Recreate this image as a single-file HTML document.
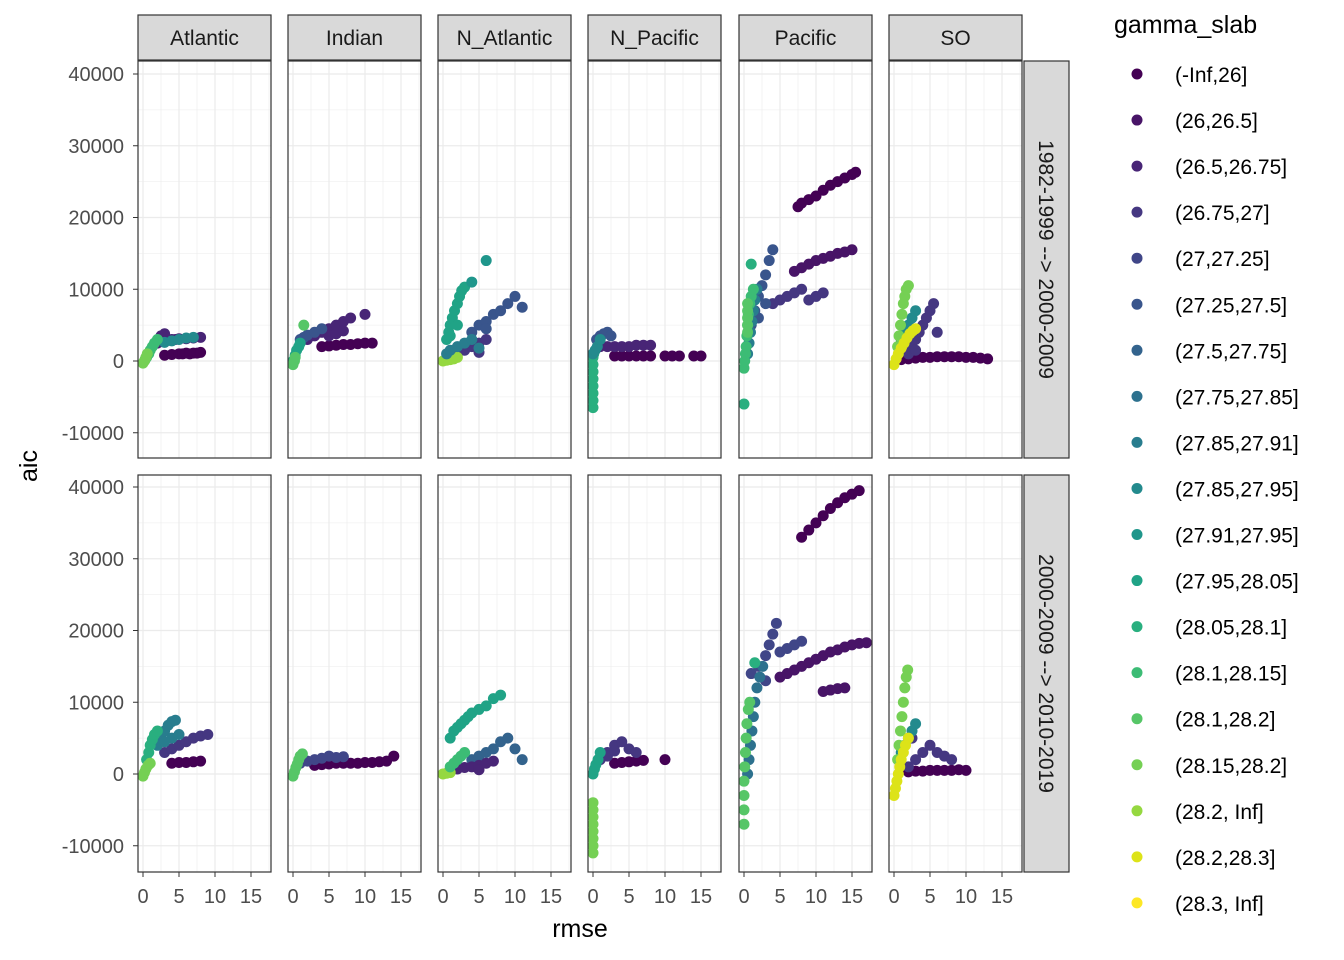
<!DOCTYPE html>
<html><head><meta charset="utf-8"><style>
body{margin:0;background:#fff}
svg{font-family:"Liberation Sans",Arial,sans-serif;display:block}
</style></head><body>
<svg id="chart" width="1344" height="960" viewBox="0 0 1344 960"></svg>
<script>
const facets = ["Atlantic","Indian","N_Atlantic","N_Pacific","Pacific","SO"];
const rowsLab = ["1982-1999 --> 2000-2009","2000-2009 --> 2010-2019"];
const classes = ["(-Inf,26]","(26,26.5]","(26.5,26.75]","(26.75,27]","(27,27.25]","(27.25,27.5]","(27.5,27.75]","(27.75,27.85]","(27.85,27.91]","(27.85,27.95]","(27.91,27.95]","(27.95,28.05]","(28.05,28.1]","(28.1,28.15]","(28.1,28.2]","(28.15,28.2]","(28.2, Inf]","(28.2,28.3]","(28.3, Inf]"];
const colors = ["#440154","#481467","#482576","#453781","#404688","#39558C","#33638D","#2D718E","#287D8E","#238A8D","#1F968B","#20A386","#29AF7F","#3CBC75","#56C667","#75D054","#95D840","#DDE318","#FDE725"];
const xTicks = [0,5,10,15];
const yTicks = [-10000,0,10000,20000,30000,40000];
// clusters: facet, row, class, then rmse/aic(thousands) pairs
const clusters = [
"0 0 0: 3 0.8 4 0.9 5 1 5.5 1 6 1.1 6.5 1 7 1.1 7.5 1.1 8 1.2",
"0 0 2: 2 2.5 2.5 2.7 3 2.8 3.5 2.9 4 3 4.5 3 5 3.1 6 3.1 7 3.2 8 3.3 2.5 3.5 3 3.8",
"0 0 9: 3 2.6 4 2.8 5 3 6 3.2 7 3.3",
"0 0 13: 0.5 0.5 0.8 1 1 1.5 1.3 2 1.6 2.5 2 3 0.3 0.2",
"0 0 15: 0 -0.3 0.2 0 0.4 0.5 0.6 1",
"0 1 0: 4 1.5 5 1.6 6 1.6 7 1.7 8 1.8",
"0 1 3: 3 3 4 3.5 5 4 6 4.5 7 5 8 5.3 9 5.5",
"0 1 8: 2 4 2.5 5 3 6 3.5 6.8 4 7.3 4.5 7.5 3 4.5 4 5 5 5.5",
"0 1 12: 0.5 2 0.8 3 1 4 1.3 4.8 1.6 5.5 2 6",
"0 1 15: 0 -0.3 0.2 0.2 0.4 0.7 0.7 1.2 1 1.5",
"1 0 0: 4 2 5 2.1 6 2.2 7 2.3 8 2.3 9 2.4 10 2.5 11 2.5",
"1 0 2: 2 3 3 3.5 4 4 5 4.5 6 5 7 5.5 8 6 10 6.5 5 3.5 6 3.8 7 4.2",
"1 0 5: 1 3 1.5 3.3 2 3.6 3 4 4 4.5",
"1 0 11: 0 0 0.3 0.8 0.5 1.5 0.8 2 1 2.5",
"1 0 14: 1.5 5 0 -0.5 0.2 0 0.3 0.5",
"1 1 0: 3 1.2 4 1.3 5 1.4 6 1.5 7 1.5 8 1.5 9 1.5 10 1.6 11 1.6 12 1.7 13 1.8 14 2.5",
"1 1 4: 1 1.5 2 1.8 3 2 4 2.2 5 2.5 6 2.3 7 2.4",
"1 1 14: 0 -0.3 0.2 0.3 0.4 0.9 0.6 1.4 0.8 2 1 2.5 1.3 2.8",
"2 0 11: 0.5 3 0.8 4 1 5 1.3 6 1.6 7 2 8 2.3 9 2.6 9.8 3 10.3 1 3.5 2 5",
"2 0 10: 6 14 4 11",
"2 0 5: 4 4 5 5 6 5.5 7 6.5 8 7 9 8 10 9 11 7.5 6 4.5",
"2 0 3: 2 1 3 1.5 4 2 5 2.5 6 3 5 1.2",
"2 0 16: 0 0 0.5 0.1 1 0.2 1.5 0.3 2 0.5",
"2 0 8: 0.5 1 1 1.5 2 2 3 2.5 4 3 5 1.8",
"2 1 11: 1 5 1.5 6 2 6.5 2.5 7 3 7.5 3.5 8 4 8.5 5 9 6 9.5 7 10.5 8 11",
"2 1 6: 4 2 5 2.5 6 3 7 3.5 8 4.5 9 5 10 3.5 11 2",
"2 1 2: 1 0.5 2 0.7 3 0.9 4 1 5 1.2 6 1.5 7 1.8 5 0.6",
"2 1 16: 0 0 0.5 0.1 1 0.2",
"2 1 13: 1 1 1.5 1.5 2 2 2.5 2.5 3 3",
"3 0 0: 3 0.7 4 0.7 5 0.7 6 0.7 7 0.7 8 0.7 10 0.7 11 0.7 12 0.7 14 0.7 15 0.7",
"3 0 2: 1 2 2 2 3 2 4 2 5 2 6 2.2 7 2.2 8 2.2",
"3 0 5: 0.5 3 1 3.5 1.5 3.8 2 4 2.5 3.5",
"3 0 12: 0 -6.5 0 -5.5 0 -4.5 0 -3.5 0 -2.5 0 -1.5 0 -0.5 0 0.5 0.1 1",
"3 0 9: 0 1 0.3 1.5 0.6 2 1 3",
"3 1 0: 3 1.5 4 1.6 5 1.7 6 1.8 7 1.9 10 2",
"3 1 3: 1 2 2 3 3 4 4 4.5 5 3.5 6 3 2 2.5 3 3.2",
"3 1 15: 0 -11 0 -10 0 -9 0 -8 0 -7 0 -6 0 -5 0 -4",
"3 1 11: 0 0 0.2 0.7 0.4 1.3 0.7 2 1 3",
"4 0 0: 7.5 21.5 8 22 9 22.5 10 23 11 23.8 12 24.5 13 25 14 25.5 15 26 15.5 26.3",
"4 0 1: 7 12.5 8 13 9 13.5 10 14 11 14.3 12 14.6 13 15 14 15.2 15 15.5",
"4 0 3: 4 8 5 8.5 6 9 7 9.5 8 10 9 8.5 10 9 11 9.5",
"4 0 5: 1 5 1.5 7 2 9 2.5 10.5 3 12 3.5 14 4 15.5 2 6 3 8",
"4 0 8: 0.5 1 0.7 2.5 0.9 4 1.1 5.5 1.3 7 1.5 8.5 1.8 10",
"4 0 13: 0 -1 0.1 0 0.2 1 0.3 2 0.4 3.5 0.5 5 0.6 6.5 0.8 8 1 9 1.3 10",
"4 0 12: 1 13.5 0 -6",
"4 0 14: 0.5 4 0.5 5 0.5 6 0.5 7 0.5 8",
"4 1 0: 8 33 9 34 10 35 11 36 12 37 13 37.8 14 38.5 15 39 16 39.5",
"4 1 1: 5 13.5 6 14 7 14.5 8 15 9 15.5 10 16 11 16.5 12 17 13 17.3 14 17.7 15 18 16 18.2 17 18.3 11 11.5 12 11.7 13 11.9 14 12",
"4 1 4: 1 14 2 15 3 16.5 3.5 18 4 19.5 4.5 21 5 17 6 17.5 7 18 8 18.5 3 13",
"4 1 7: 0.5 0 0.7 2 0.9 4 1.1 6 1.3 8 1.5 10 1.8 12 2.2 13.5 2.6 15",
"4 1 14: 0 -7 0 -5 0 -3 0 -1 0.1 1 0.2 3 0.3 5 0.4 7 0.6 9 0.8 10",
"4 1 12: 1.5 15.5",
"5 0 0: 1 0.2 2 0.3 3 0.4 4 0.5 5 0.5 6 0.6 7 0.6 8 0.6 9 0.6 10 0.5 11 0.5 12 0.4 13 0.3",
"5 0 3: 2 1 2.5 2 3 3 3.5 4 4 5 4.5 6 5 7 5.5 8 6 4 3 1.5",
"5 0 9: 1 3 1.5 4 2 5 2.5 6 3 7",
"5 0 15: 0.5 2 0.7 3.5 0.9 5 1.1 6.5 1.3 8 1.5 9 1.7 10 2 10.5",
"5 0 17: 0 -0.5 0.3 0.3 0.6 1 1 1.8 1.4 2.5 1.8 3.2 2.2 3.8 2.6 4.2 3 4.5",
"5 1 0: 2 0.3 3 0.4 4 0.4 5 0.5 6 0.5 7 0.5 8 0.5 9 0.6 10 0.5",
"5 1 3: 2 1 3 2 4 3 5 4 6 3 7 2.5 8 2 2.5 5",
"5 1 9: 1 3 1.5 4 2 5 2.5 6 3 7",
"5 1 15: 0.5 2 0.7 4 0.9 6 1.1 8 1.3 10 1.5 12 1.7 13.5 1.9 14.5",
"5 1 17: 0 -3 0.2 -2 0.4 -1 0.6 0 0.8 1 1 2 1.3 3 1.6 4 2 5"
];
const NS="http://www.w3.org/2000/svg";
const svg=document.getElementById('chart');
function mk(tag,attrs,parent,text){const e=document.createElementNS(NS,tag);for(const k in attrs)e.setAttribute(k,attrs[k]);if(text!==undefined)e.textContent=text;(parent||svg).appendChild(e);return e;}
const colL=[138,288,438,588,739,889], pw=133;
const rowT=[61,475], ph=397;
const x0=[143], xs=7.2;
function sx(c,v){return colL[c]+5+v*xs;}
function sy(r,v){return (r===0?361:774)-v*0.007175;}
for(let r=0;r<2;r++){
  for(let c=0;c<6;c++){
    const g=mk('g',{});
    
    
    mk('rect',{x:colL[c],y:rowT[r],width:pw,height:ph,fill:'#fff'},g);
    for(let v=-10000;v<=40000;v+=5000){const y=sy(r,v);if(y>rowT[r]&&y<rowT[r]+ph)mk('line',{x1:colL[c],x2:colL[c]+pw,y1:y,y2:y,stroke:'#EBEBEB','stroke-width':v%10000?0.6:1.2},g);}
    for(let v=0;v<=17.5;v+=2.5){const x=sx(c,v);mk('line',{x1:x,x2:x,y1:rowT[r],y2:rowT[r]+ph,stroke:'#EBEBEB','stroke-width':v%5?0.6:1.2},g);}
    // ticks
    xTicks.forEach(t=>{const x=sx(c,t);if(r===1){mk('line',{x1:x,x2:x,y1:rowT[r]+ph,y2:rowT[r]+ph+5,stroke:'#333','stroke-width':1},g);
      const tl=mk('text',{x:x,y:903,'text-anchor':'middle','font-size':20,fill:'#4D4D4D'},g,String(t));}});
    if(c===0)yTicks.forEach(t=>{const y=sy(r,t);mk('line',{x1:colL[c]-5,x2:colL[c],y1:y,y2:y,stroke:'#333'},g);
      const tl=mk('text',{x:124,y:y+7,'text-anchor':'end','font-size':20,fill:'#4D4D4D'},g,String(t));});
  }
}
// points
clusters.forEach(s=>{
  const [head,body]=s.split(':');const [c,r,k]=head.trim().split(/\s+/).map(Number);
  const nums=body.trim().split(/\s+/).map(Number);
  for(let i=0;i<nums.length;i+=2){
    const p=mk('circle',{cx:sx(c,nums[i]),cy:sy(r,nums[i+1]*1000),r:5.5,fill:colors[k]});
    
    
  }
});
// borders & strips
for(let r=0;r<2;r++)for(let c=0;c<6;c++)mk('rect',{x:colL[c],y:rowT[r],width:pw,height:ph,fill:'none',stroke:'#333','stroke-width':1.2});
facets.forEach((f,c)=>{
  const st=mk('rect',{x:colL[c],y:15,width:pw,height:45,fill:'#D9D9D9',stroke:'#333','stroke-width':1.2});
  
  const t=mk('text',{x:colL[c]+pw/2,y:45,'text-anchor':'middle','font-size':21,fill:'#1A1A1A'},svg,f);
  
});
rowsLab.forEach((l,r)=>{
  const st=mk('rect',{x:1024,y:rowT[r],width:45,height:ph,fill:'#D9D9D9',stroke:'#333','stroke-width':1.2});
  
  const cy=rowT[r]+ph/2;
  const t=mk('text',{x:1039,y:cy,'text-anchor':'middle','font-size':21,fill:'#1A1A1A',transform:`rotate(90 1039 ${cy})`},svg,l);
  
});
const xt=mk('text',{x:580,y:937,'text-anchor':'middle','font-size':25,fill:'#000'},svg,'rmse');

const yt=mk('text',{x:37,y:466,'text-anchor':'middle','font-size':25,fill:'#000',transform:'rotate(-90 37 466)'},svg,'aic');

const lt=mk('text',{x:1114,y:33,'font-size':25,fill:'#000'},svg,'gamma_slab');

classes.forEach((l,i)=>{
  const y=74+i*46.05;
  const g=mk('g',{});
  
  mk('circle',{cx:1137,cy:y,r:5.5,fill:colors[i]},g);
  mk('text',{x:1175,y:y+8,'font-size':21,fill:'#000'},g,l);
});
</script>
</body></html>
